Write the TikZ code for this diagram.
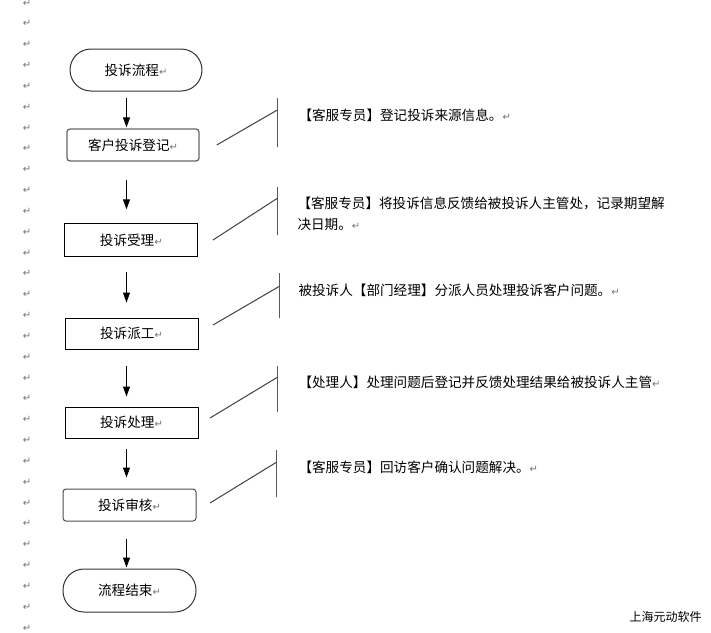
\documentclass[tikz,border=0pt]{standalone}
\usepackage{fontspec}
\newfontfamily\cjk{Noto Sans CJK SC}
\newfontfamily\markfont{DejaVu Sans}
\usetikzlibrary{arrows.meta}
\newcommand\pmark{{\markfont\fontsize{10pt}{10pt}\selectfont\color{black!55}↵}}
\begin{document}
\begin{tikzpicture}[x=1pt,y=-1pt,line width=1pt,
  every node/.style={font=\cjk\fontsize{13.6pt}{21pt}\selectfont},
  term/.style={draw=black!80,rounded corners=21pt,minimum width=132pt,minimum height=42pt},
  stage/.style={draw,minimum width=133pt,minimum height=32pt},
  soft/.style={stage,rounded corners=3pt,draw=black!70},
  flow/.style={-{Triangle[width=7pt,length=10pt]}},
  bar/.style={draw,inner sep=0pt,minimum width=0pt},
  leader/.style={draw=black!75},
  note/.style={anchor=west,align=left,inner sep=0pt},
  margin/.style={text=black!55,font=\markfont\fontsize{10pt}{10pt}\selectfont}]
\useasboundingbox (0,0) rectangle (711,632);
\foreach \k in {0,...,30}
  \node[margin] (m\k) at (27,{3+20.83*\k}) {↵};
\node[term] (start) at (136,70) {投诉流程\pmark};
\node[soft,minimum width=132pt,draw=black!60,line width=1.3pt] (reg) at (133,145) {客户投诉登记\pmark};
\node[stage,minimum height=33pt] (acc) at (131.3,240.3) {投诉受理\pmark};
\node[stage,minimum height=31pt] (disp) at (131.5,333.5) {投诉派工\pmark};
\node[stage,minimum height=31pt] (proc) at (131.5,422.5) {投诉处理\pmark};
\node[soft] (rev) at (129.5,505) {投诉审核\pmark};
\node[term,minimum width=133pt,minimum height=43pt] (stop) at (129.5,590.5) {流程结束\pmark};
\coordinate (spine) at (126.5,0);
\foreach \a/\b/\s/\t in {start/reg/6/1,reg/acc/18/14,acc/disp/15/15,disp/proc/16/10,proc/rev/10/11,rev/stop/17/1}
  \draw[flow,shorten <=\s pt,shorten >=\t pt] (\a.south -| spine) -- (\b.north -| spine);
\foreach \i/\bx/\by/\bh/\tx/\ty/\hit in {1/277/122.5/49/216.7/145/12.7,2/277/211/48/213/240/12,3/279/295.5/45/213/325/14,4/277/389/46/210/418/12,5/276/473.5/47/210/503/13}{
  \node[bar,minimum height=\bh pt] (bar\i) at (\bx,\by) {};
  \coordinate (tail\i) at (\tx,\ty);
  \draw[leader] (tail\i) -- ([yshift=-\hit pt]bar\i.north);
}
\node[note] (note1) at (298,115) {【客服专员】登记投诉来源信息。\pmark};
\node[note] (note2) at (297,213.5) {【客服专员】将投诉信息反馈给被投诉人主管处，记录期望解\\决日期。\pmark};
\node[note] (note3) at (298,290) {被投诉人【部门经理】分派人员处理投诉客户问题。\pmark};
\node[note] (note4) at (298,382) {【处理人】处理问题后登记并反馈处理结果给被投诉人主管\pmark};
\node[note] (note5) at (298,467) {【客服专员】回访客户确认问题解决。\pmark};
\node[anchor=east,inner sep=0pt,font=\cjk\fontsize{12pt}{12pt}\selectfont] (brand) at (702,617) {上海元动软件};
\end{tikzpicture}
\end{document}
